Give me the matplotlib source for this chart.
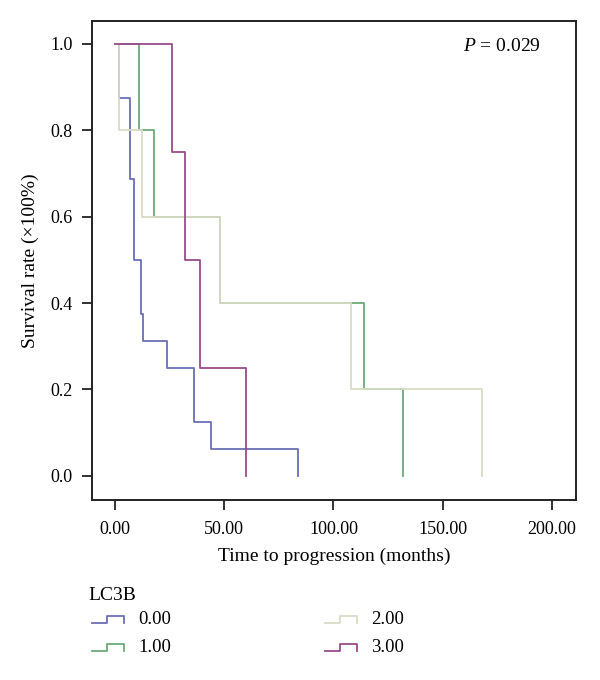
import matplotlib
matplotlib.use("Agg")
import matplotlib.pyplot as plt
from matplotlib.lines import Line2D

plt.rcParams['font.family'] = ['Liberation Serif', 'DejaVu Serif']
plt.rcParams['mathtext.fontset'] = 'custom'
plt.rcParams['mathtext.it'] = 'Liberation Serif:italic'
plt.rcParams['mathtext.rm'] = 'Liberation Serif'

# Kaplan-Meier step data (time, survival) for each LC3B group
groups = ["0.00", "1.00", "2.00", "3.00"]
t0 = [0, 2.0, 6.9, 8.7, 11.9, 13.0, 23.9, 36.3, 43.9, 83.8]
s0 = [1.0, 0.875, 0.6875, 0.5, 0.375, 0.3125, 0.25, 0.125, 0.0625, 0.0]
t1 = [0, 11.1, 17.8, 48.0, 114.0, 132.0]
s1 = [1.0, 0.8, 0.6, 0.4, 0.2, 0.0]
t2 = [0, 2.0, 12.2, 48.0, 108.0, 168.0]
s2 = [1.0, 0.8, 0.6, 0.4, 0.2, 0.0]
t3 = [0, 26.2, 32.2, 39.0, 60.1]
s3 = [1.0, 0.75, 0.5, 0.25, 0.0]
colors = ["#6a70b8", "#6aaa78", "#d8dbc6", "#9a4c8a"]

xticks = [0, 50, 100, 150, 200]
yticks = [0.0, 0.2, 0.4, 0.6, 0.8, 1.0]

fig = plt.figure(figsize=(6.0, 6.8), dpi=100)
ax = fig.add_axes([92/600, 1-500/680, (576-92)/600, (500-21)/680])

series = [(t0, s0), (t1, s1), (t2, s2), (t3, s3)]
zord = {0: 2, 1: 3, 2: 4, 3: 5}
for i in range(4):
    t, s = series[i]
    ax.step(t, s, where='post', color=colors[i], lw=1.3, zorder=zord[i])

ax.set_xlim(-10.5, 211)
ax.set_ylim(-0.056, 1.053)
ax.set_xticks(xticks)
ax.set_xticklabels([f"{v:.2f}" for v in xticks])
ax.set_yticks(yticks)
ax.set_yticklabels([f"{v:.1f}" for v in yticks])
ax.tick_params(direction='out', length=7, width=1.3, labelsize=13, color='#222222')
ax.tick_params(axis='x', pad=8)
ax.tick_params(axis='y', pad=7)
for sp in ax.spines.values():
    sp.set_linewidth(1.4)
    sp.set_color('#222222')
ax.set_xlabel("Time to progression (months)", fontsize=14, labelpad=7)
ax.set_ylabel("Survival rate (×100%)", fontsize=14, labelpad=8)
ax.text(0.928, 0.946, r"$P$ = 0.029", transform=ax.transAxes, fontsize=14,
        ha='right', va='center')

# Legend (manual, step-shaped handles)
fig.text(88/600, 1-595/680, "LC3B", fontsize=14, va='center', ha='left')
pos = {0: (92, 620), 1: (92, 648), 2: (325, 620), 3: (325, 648)}
for i, g in enumerate(groups):
    x0, yc = pos[i]
    xs = [x0, x0 + 15, x0 + 15, x0 + 32, x0 + 32]
    ys = [yc + 3, yc + 3, yc - 4, yc - 4, yc + 3]
    fig.add_artist(Line2D([x/600 for x in xs], [1 - y/680 for y in ys],
                          color=colors[i], lw=1.3, transform=fig.transFigure))
    fig.text((x0 + 46)/600, 1 - yc/680, g, fontsize=13.5, va='center', ha='left')

fig.savefig("out.png", dpi=100)
